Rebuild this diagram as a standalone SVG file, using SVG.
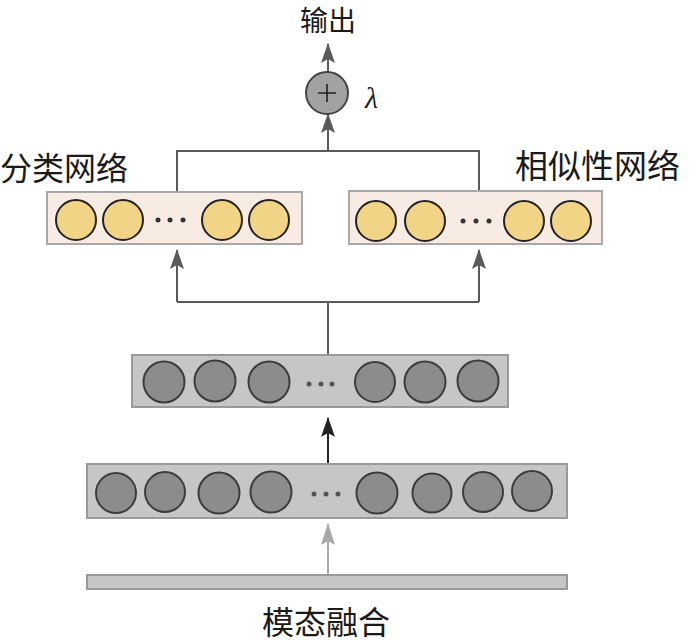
<svg xmlns="http://www.w3.org/2000/svg" width="691" height="643" viewBox="0 0 691 643">
<style>
.lbl{font-family:"Noto Sans CJK SC","Noto Sans CJK JP",sans-serif;fill:#1a1a1a}
.ybox{fill:#f8ebe4;stroke:#a8a8a8;stroke-width:2}
.yc{fill:#f2d487;stroke:#222;stroke-width:2}
.gbox{fill:#c6c6c6;stroke:#9a9a9a;stroke-width:2}
.gc{fill:#8c8c8c;stroke:#3c3c3c;stroke-width:2}
.dot{fill:#333}
.gdot{fill:#555}
.ln{fill:none;stroke:#5a5a5a;stroke-width:2}
</style>
<defs>
<marker id="ah" markerWidth="20" markerHeight="16" refX="19" refY="8" orient="auto" markerUnits="userSpaceOnUse" viewBox="0 0 20 16">
<path d="M20,8 L0,1 L4,8 L0,15 Z" fill="#5a5a5a"/>
</marker>
<marker id="ahk" markerWidth="20" markerHeight="16" refX="19" refY="8" orient="auto" markerUnits="userSpaceOnUse" viewBox="0 0 20 16">
<path d="M20,8 L0,1 L4,8 L0,15 Z" fill="#222"/>
</marker>
<marker id="ahl" markerWidth="22" markerHeight="16" refX="21" refY="8" orient="auto" markerUnits="userSpaceOnUse" viewBox="0 0 22 16">
<path d="M22,8 L0,1 L4,8 L0,15 Z" fill="#a8a8a8"/>
</marker>
</defs>
<g id="connectors">
<line class="ln" x1="328" y1="72" x2="328" y2="44" marker-end="url(#ah)"/>
<line class="ln" x1="328" y1="151" x2="328" y2="114" marker-end="url(#ah)"/>
<path class="ln" d="M177,191 V151 H479 V191"/>
<path class="ln" d="M328,355 V302"/>
<path class="ln" d="M177,302 H479"/>
<line class="ln" x1="177" y1="302" x2="177" y2="250" marker-end="url(#ah)"/>
<line class="ln" x1="479" y1="302" x2="479" y2="250" marker-end="url(#ah)"/>
<line x1="328" y1="464" x2="328" y2="418" stroke="#222" stroke-width="2" marker-end="url(#ahk)"/>
<line x1="328" y1="582" x2="328" y2="524" stroke="#a8a8a8" stroke-width="2" marker-end="url(#ahl)"/>
</g>
<g id="output-label"><text class="lbl" x="328" y="31" font-size="28" text-anchor="middle">输出</text></g>
<g id="sum">
<circle cx="327" cy="93" r="21" fill="#a2a2a2" stroke="#444" stroke-width="2"/>
<path d="M318,93 H336 M327,84 V102" stroke="#222" stroke-width="1.6" fill="none"/>
<text x="365" y="108" font-family="Liberation Serif,serif" font-style="italic" font-size="30" fill="#222">λ</text>
</g>
<g id="classification-net">
<text class="lbl" x="0" y="180" font-size="32">分类网络</text>
<rect class="ybox" x="47" y="192" width="255" height="52"/>
<circle class="yc" cx="76" cy="220" r="20"/>
<circle class="yc" cx="123" cy="220" r="20"/>
<circle class="dot" cx="158" cy="220" r="2.5"/><circle class="dot" cx="170" cy="220" r="2.5"/><circle class="dot" cx="183" cy="220" r="2.5"/>
<circle class="yc" cx="222" cy="220" r="20"/>
<circle class="yc" cx="269" cy="220" r="20"/>
</g>
<g id="similarity-net">
<text class="lbl" x="515" y="178" font-size="33">相似性网络</text>
<rect class="ybox" x="349" y="191" width="253" height="53"/>
<circle class="yc" cx="376" cy="221" r="20"/>
<circle class="yc" cx="425" cy="221" r="20"/>
<circle class="dot" cx="463" cy="221" r="2.5"/><circle class="dot" cx="476" cy="221" r="2.5"/><circle class="dot" cx="489" cy="221" r="2.5"/>
<circle class="yc" cx="524" cy="221" r="20"/>
<circle class="yc" cx="571" cy="221" r="20"/>
</g>
<g id="hidden2">
<rect class="gbox" x="132" y="355" width="376" height="52"/>
<circle class="gc" cx="164" cy="382" r="20.5"/>
<circle class="gc" cx="215" cy="381" r="20.5"/>
<circle class="gc" cx="269" cy="382" r="20.5"/>
<circle class="gdot" cx="309" cy="384" r="2.5"/><circle class="gdot" cx="321" cy="384" r="2.5"/><circle class="gdot" cx="332" cy="384" r="2.5"/>
<circle class="gc" cx="375" cy="382" r="20"/>
<circle class="gc" cx="425" cy="382" r="20.5"/>
<circle class="gc" cx="478" cy="381" r="20.5"/>
</g>
<g id="hidden1">
<rect class="gbox" x="87" y="464" width="480" height="54"/>
<circle class="gc" cx="116" cy="493" r="20"/>
<circle class="gc" cx="165" cy="492" r="20"/>
<circle class="gc" cx="219" cy="493" r="20.5"/>
<circle class="gc" cx="271" cy="492" r="20.5"/>
<circle class="gdot" cx="314" cy="494" r="2.5"/><circle class="gdot" cx="326" cy="494" r="2.5"/><circle class="gdot" cx="338" cy="494" r="2.5"/>
<circle class="gc" cx="377" cy="493" r="20.5"/>
<circle class="gc" cx="432" cy="493" r="19.5"/>
<circle class="gc" cx="483" cy="492" r="20"/>
<circle class="gc" cx="532" cy="491" r="20"/>
</g>
<g id="fusion">
<rect class="gbox" x="87" y="575" width="480" height="14"/>
<text class="lbl" x="326" y="634" font-size="32" text-anchor="middle">模态融合</text>
</g>
</svg>
